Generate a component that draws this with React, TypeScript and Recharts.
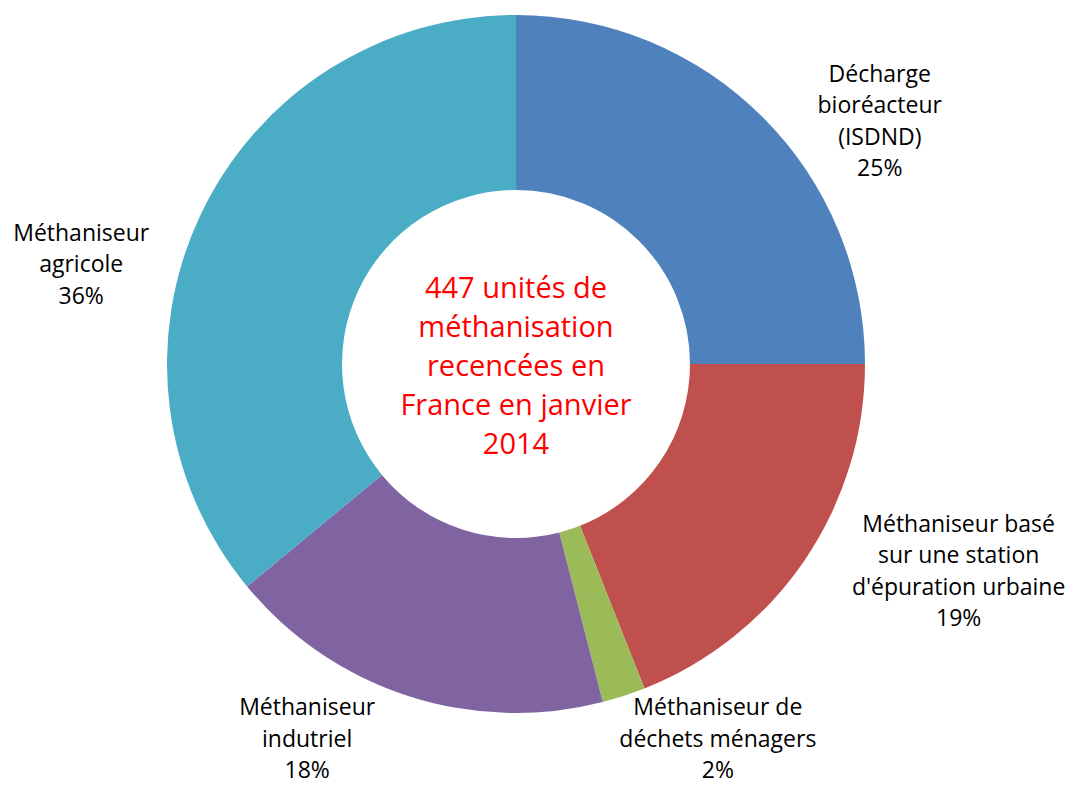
import React from "react";
import { PieChart, Pie, Cell } from "recharts";

const categories = [
  "Décharge bioréacteur (ISDND)",
  "Méthaniseur basé sur une station d'épuration urbaine",
  "Méthaniseur de déchets ménagers",
  "Méthaniseur indutriel",
  "Méthaniseur agricole",
];
const labelLines = [
  ["Décharge", "bioréacteur", "(ISDND)"],
  ["Méthaniseur basé", "sur une station", "d'épuration urbaine"],
  ["Méthaniseur de", "déchets ménagers"],
  ["Méthaniseur", "indutriel"],
  ["Méthaniseur", "agricole"],
];
const percentages = [25, 19, 2, 18, 36];
const colors = ["#4F81BD", "#C0504D", "#9BBB59", "#8064A2", "#4BACC6"];
const centerLines = [
  "447 unités de",
  "méthanisation",
  "recencées en",
  "France en janvier",
  "2014",
];

// label center offsets relative to the outer-edge point at the slice mid angle
const LABEL_OFFSETS: [number, number][] = [
  [117, 3],
  [154, 10],
  [94, 42],
  [-101, 42],
  [-119, 48],
];

const data = categories.map((name, i) => ({ name, value: percentages[i] }));

if (typeof document !== "undefined") {
  document.body.style.margin = "0";
}

const FONT = "'Open Sans', Lato, sans-serif";
const LH = 31.5;

const renderLabel = (props: any) => {
  const { cx, cy, midAngle, outerRadius, index, percent } = props;
  const rad = Math.PI / 180;
  const px = cx + outerRadius * Math.cos(-midAngle * rad);
  const py = cy + outerRadius * Math.sin(-midAngle * rad);
  const [ox, oy] = LABEL_OFFSETS[index];
  const x = px + ox;
  const lines = [...labelLines[index], `${Math.round(percent * 100)}%`];
  const y0 = py + oy - ((lines.length - 1) * LH) / 2;
  return (
    <text
      key={`lbl-${index}`}
      x={x}
      y={y0}
      textAnchor="middle"
      dominantBaseline="central"
      fontFamily={FONT}
      fontSize={23}
      fill="#000"
    >
      {lines.map((l, i) => (
        <tspan key={i} x={x} y={y0 + i * LH}>
          {l}
        </tspan>
      ))}
    </text>
  );
};

export default function App() {
  const cx = 516;
  const cy = 364;
  return (
    <div style={{ width: 1069, height: 785, background: "#fff" }}>
      <PieChart
        width={1069}
        height={785}
        margin={{ top: 0, right: 0, bottom: 0, left: 0 }}
      >
        <Pie
          data={data}
          dataKey="value"
          nameKey="name"
          cx={cx}
          cy={cy}
          innerRadius={174}
          outerRadius={349}
          startAngle={90}
          endAngle={-270}
          stroke="none"
          isAnimationActive={false}
          label={renderLabel}
          labelLine={false}
        >
          {data.map((d, i) => (
            <Cell key={d.name} fill={colors[i]} />
          ))}
        </Pie>
        <text
          x={cx}
          y={cy}
          textAnchor="middle"
          fontFamily={FONT}
          fontSize={29}
          fill="#FF0000"
        >
          {centerLines.map((l, i) => (
            <tspan
              key={i}
              x={cx}
              y={cy + (i - (centerLines.length - 1) / 2) * 39}
              dominantBaseline="central"
            >
              {l}
            </tspan>
          ))}
        </text>
      </PieChart>
    </div>
  );
}
